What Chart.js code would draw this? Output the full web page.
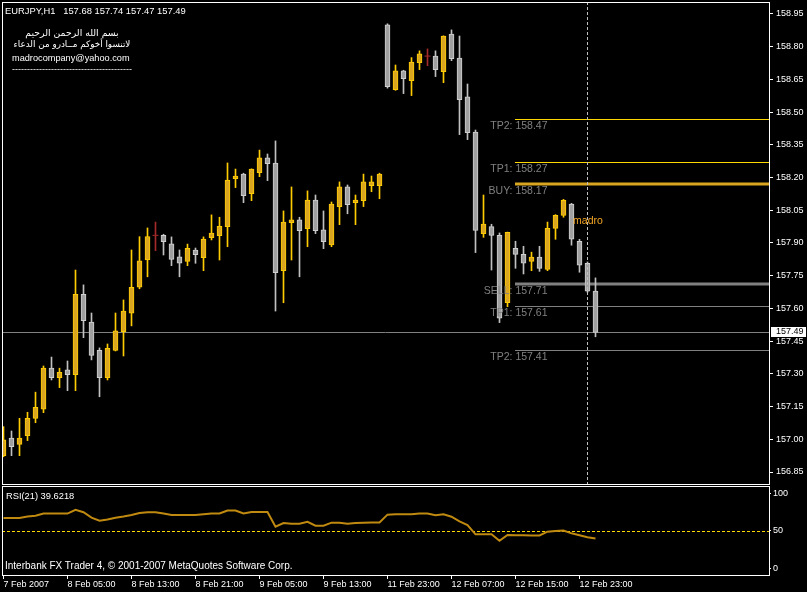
<!DOCTYPE html>
<html>
<head>
<meta charset="utf-8">
<title>EURJPY,H1</title>
<script src="https://cdn.jsdelivr.net/npm/chart.js@4.4.1/dist/chart.umd.min.js"></script>
<style>
  html, body { margin: 0; padding: 0; background: #000; }
  #wrap { position: relative; width: 807px; height: 592px; overflow: hidden; background: #000; }
  #priceWrap { position: absolute; left: 0; top: 0; width: 807px; height: 486px; }
  #rsiWrap { position: absolute; left: 0; top: 484px; width: 807px; height: 108px; }
  .note { position: absolute; color: #fff; font: 9px 'Liberation Sans', Arial, sans-serif; white-space: pre; line-height: 12px; }
  .ar { font-family: 'DejaVu Sans', sans-serif; direction: rtl; text-align: center; width: 140px; left: 2px; }
</style>
</head>
<body>
<div id="wrap">
  <div id="priceWrap"><canvas id="priceChart"></canvas></div>
  <div id="rsiWrap"><canvas id="rsiChart"></canvas></div>
  <div class="note" id="header" style="left:5px;top:5px;font-size:9.4px"></div>
  <div class="note ar" style="top:27px;font-size:9.3px">بسم الله الرحمن الرحيم</div>
  <div class="note ar" style="top:38px;font-size:8.8px">لاتنسوا أخوكم مــادرو من الدعاء</div>
  <div class="note" style="left:12px;top:52px;font-size:9.2px">madrocompany@yahoo.com</div>
  <div class="note" style="left:12px;top:63px">----------------------------------------</div>
  <div class="note" id="rsiTitle" style="left:6px;top:490px;font-size:9.3px"></div>
  <div class="note" style="left:5px;top:560px;font-size:10px">Interbank FX Trader 4, © 2001-2007 MetaQuotes Software Corp.</div>
</div>
<script>
  /* Data */
  var symbol = 'EURJPY,H1';
  var openP = [156.925, 157.005, 156.977, 157.017, 157.096, 157.138, 157.326, 157.282, 157.318, 157.296,
               157.665, 157.537, 157.408, 157.282, 157.408, 157.493, 157.578, 157.697, 157.822, 157.935,
               157.935, 157.896, 157.837, 157.815, 157.867, 157.833, 157.924, 157.934, 157.975, 158.195,
               158.216, 158.126, 158.222, 158.290, 158.267, 157.773, 157.993, 158.006, 157.966, 158.097,
               157.960, 157.891, 158.067, 158.157, 158.085, 158.094, 158.163, 158.163, 158.900, 158.603,
               158.689, 158.644, 158.727, 158.757, 158.757, 158.686, 158.858, 158.748, 158.570, 158.409,
               157.943, 157.975, 157.935, 157.626, 157.876, 157.848, 157.816, 157.835, 157.779, 157.967,
               158.027, 158.078, 157.908, 157.807, 157.680];
  var highP = [157.058, 157.038, 157.096, 157.124, 157.216, 157.336, 157.377, 157.326, 157.359, 157.776,
               157.708, 157.579, 157.419, 157.437, 157.579, 157.639, 157.868, 157.929, 157.969, 157.996,
               157.940, 157.928, 157.868, 157.895, 157.877, 157.928, 158.029, 158.018, 158.267, 158.239,
               158.220, 158.240, 158.326, 158.308, 158.368, 158.047, 158.157, 158.018, 158.139, 158.120,
               158.047, 158.088, 158.180, 158.166, 158.120, 158.216, 158.207, 158.220, 158.905, 158.716,
               158.692, 158.750, 158.781, 158.790, 158.781, 158.850, 158.877, 158.849, 158.629, 158.418,
               158.120, 157.986, 157.946, 157.950, 157.908, 157.885, 157.858, 157.885, 157.996, 158.030,
               158.100, 158.082, 157.917, 157.813, 157.740];
  var lowP = [156.920, 156.925, 156.925, 156.994, 157.076, 157.122, 157.272, 157.237, 157.223, 157.223,
              157.466, 157.364, 157.195, 157.272, 157.405, 157.382, 157.520, 157.690, 157.745, 157.865,
              157.845, 157.796, 157.745, 157.796, 157.807, 157.773, 157.914, 157.822, 157.883, 158.154,
              158.085, 158.094, 158.204, 158.186, 157.588, 157.626, 157.822, 157.745, 157.883, 157.943,
              157.874, 157.883, 157.984, 158.034, 157.984, 158.067, 158.135, 158.103, 158.610, 158.600,
              158.585, 158.576, 158.695, 158.713, 158.663, 158.635, 158.736, 158.397, 158.374, 157.856,
              157.926, 157.776, 157.535, 157.608, 157.784, 157.758, 157.773, 157.770, 157.773, 157.917,
              158.018, 157.890, 157.766, 157.674, 157.470];
  var closeP = [156.997, 156.966, 157.005, 157.096, 157.147, 157.326, 157.282, 157.307, 157.296, 157.665,
                157.544, 157.385, 157.282, 157.417, 157.497, 157.588, 157.697, 157.818, 157.929, 157.935,
                157.906, 157.825, 157.807, 157.876, 157.846, 157.918, 157.946, 157.977, 158.189, 158.207,
                158.117, 158.239, 158.290, 158.264, 157.764, 157.996, 158.006, 157.957, 158.097, 157.957,
                157.906, 158.079, 158.157, 158.076, 158.097, 158.180, 158.180, 158.216, 158.617, 158.689,
                158.653, 158.730, 158.767, 158.757, 158.695, 158.849, 158.745, 158.557, 158.406, 157.958,
                157.987, 157.935, 157.555, 157.949, 157.848, 157.807, 157.835, 157.784, 157.967, 158.027,
                158.096, 157.917, 157.798, 157.679, 157.490];
  var rsi = [67, 67, 67, 69, 70, 73, 73, 73, 73, 78,
             74.7, 67.5, 63.5, 65, 67.5, 69, 71, 73.7, 74.7, 74.7,
             73, 71, 71, 71, 71, 72, 73, 73, 77, 77,
             73, 75, 75, 75, 55.5, 60.4, 59.5, 59.5, 62, 56.8,
             56.8, 60.8, 60.8, 59.5, 60.4, 60.8, 61, 61, 71.5, 72,
             72, 72, 73, 73, 70.6, 72, 68.8, 62.6, 57.7, 45.3,
             45.3, 45.3, 36.8, 44.4, 44, 44, 43.7, 43.7, 48.8, 49.8,
             50.3, 46.6, 44, 41.3, 39.6218];
  var timeTicks = [0, 8, 16, 24, 32, 40, 48, 56, 64, 72];
  var timeLabels = ['7 Feb 2007', '8 Feb 05:00', '8 Feb 13:00', '8 Feb 21:00', '9 Feb 05:00',
                    '9 Feb 13:00', '11 Feb 23:00', '12 Feb 07:00', '12 Feb 15:00', '12 Feb 23:00'];
  var priceTicks = [158.95, 158.80, 158.65, 158.50, 158.35, 158.20, 158.05, 157.90,
                    157.75, 157.60, 157.45, 157.30, 157.15, 157.00, 156.85];
  var rsiTicks = [0, 50, 100];
  var levelNames = ['TP2', 'TP1', 'BUY', 'SELL', 'TP1', 'TP2'];
  var levelValues = [158.47, 158.27, 158.17, 157.71, 157.61, 157.41];
  var levelSide = ['buy', 'buy', 'buy', 'sell', 'sell', 'sell'];

  var levelFromBar = 64, levelLabelBar = 68, cursorBar = 73;
  var noteText = 'madro', noteBar = 71.2, notePrice = 158.0;

  var barIdx = openP.map(function (v, i) { return i; });
  var last = closeP.length - 1;
  var xMin = -0.1875, xMax = 95.6875;
  var axisFont = { family: "'Liberation Sans', Arial, sans-serif", size: 9 };

  document.getElementById('header').textContent = symbol + '   ' + [openP[last], highP[last], lowP[last], closeP[last]].map(function (v) { return v.toFixed(2); }).join(' ');
  document.getElementById('rsiTitle').textContent = 'RSI(21) ' + rsi[last].toFixed(4);

  function isBull(i) { return closeP[i] > openP[i]; }
  function isDoji(i) { return closeP[i] === openP[i]; }
  function noPad(s) { s.paddingTop = 0; s.paddingBottom = 0; s.paddingLeft = 0; s.paddingRight = 0; }

  /* Price panel overlay */
  var pricePlugin = {
    id: 'priceOverlay',
    beforeDatasetsDraw: function (chart) {
      var ctx = chart.ctx, a = chart.chartArea, xs = chart.scales.x, ys = chart.scales.y;
      ctx.save();
      var yc = Math.round(ys.getPixelForValue(closeP[last])) + 0.5;
      ctx.strokeStyle = '#808080';
      ctx.lineWidth = 1;
      ctx.beginPath(); ctx.moveTo(a.left, yc); ctx.lineTo(a.right, yc); ctx.stroke();

      var x0 = Math.floor(xs.getPixelForValue(levelFromBar));
      levelValues.forEach(function (v, i) {
        var entry = levelNames[i] === 'BUY' || levelNames[i] === 'SELL';
        var y = Math.round(ys.getPixelForValue(v));
        if (levelSide[i] === 'buy') ctx.strokeStyle = entry ? '#daa520' : '#ffd700';
        else ctx.strokeStyle = '#808080';
        ctx.lineWidth = entry ? 3 : 1;
        ctx.beginPath();
        ctx.moveTo(x0, entry ? y : y + 0.5);
        ctx.lineTo(a.right, entry ? y : y + 0.5);
        ctx.stroke();
      });
      ctx.restore();
    },
    afterDatasetsDraw: function (chart) {
      var ctx = chart.ctx, a = chart.chartArea, xs = chart.scales.x, ys = chart.scales.y;
      ctx.save();
      // cursor line
      var xc = Math.floor(xs.getPixelForValue(cursorBar)) + 0.5;
      ctx.strokeStyle = '#c0c0c0';
      ctx.lineWidth = 1;
      ctx.setLineDash([3, 2]);
      ctx.beginPath(); ctx.moveTo(xc, a.top); ctx.lineTo(xc, a.bottom); ctx.stroke();
      ctx.setLineDash([]);

      // level labels
      ctx.font = "10.5px 'Liberation Sans', Arial, sans-serif";
      ctx.fillStyle = '#808080';
      ctx.textAlign = 'right';
      ctx.textBaseline = 'middle';
      var xl = xs.getPixelForValue(levelLabelBar);
      levelValues.forEach(function (v, i) {
        ctx.fillText(levelNames[i] + ': ' + v.toFixed(2), xl, ys.getPixelForValue(v) + 7);
      });

      ctx.fillStyle = '#f5a623';
      ctx.textAlign = 'left';
      ctx.fillText(noteText, xs.getPixelForValue(noteBar), ys.getPixelForValue(notePrice));
      ctx.restore();
    },
    afterDraw: function (chart) {
      var ctx = chart.ctx, a = chart.chartArea, ys = chart.scales.y;
      ctx.save();
      ctx.strokeStyle = '#ffffff';
      ctx.lineWidth = 1;
      ctx.strokeRect(a.left + 0.5, a.top + 0.5, a.right - a.left, a.bottom - a.top);
      // current price tag
      var yc = Math.round(ys.getPixelForValue(closeP[last]));
      ctx.fillStyle = '#ffffff';
      ctx.fillRect(a.right + 2, yc - 5, 35, 10);
      ctx.fillStyle = '#000000';
      ctx.font = "9px 'Liberation Sans', Arial, sans-serif";
      ctx.textAlign = 'left';
      ctx.textBaseline = 'middle';
      ctx.fillText(closeP[last].toFixed(2), a.right + 7, yc);
      ctx.restore();
    }
  };

  new Chart(document.getElementById('priceChart'), {
    type: 'bar',
    data: {
      datasets: [{
        label: 'wick',
        data: barIdx.map(function (i) { return { x: i, y: [lowP[i], highP[i]] }; }),
        backgroundColor: barIdx.map(function (i) { return isDoji(i) ? '#a52a2a' : isBull(i) ? '#ffcc00' : '#c0c0c0'; }),
        barThickness: 1,
        grouped: false,
        order: 3
      }, {
        label: 'body',
        data: barIdx.map(function (i) { return { x: i, y: [openP[i], closeP[i]] }; }),
        backgroundColor: barIdx.map(function (i) { return isBull(i) ? '#daa520' : '#a0a0a0'; }),
        borderColor: barIdx.map(function (i) { return isBull(i) ? '#ffcc00' : '#d0d0d0'; }),
        borderWidth: 1,
        borderSkipped: false,
        barThickness: 5,
        grouped: false,
        order: 2
      }, {
        type: 'scatter',
        label: 'doji',
        data: barIdx.filter(isDoji).map(function (i) { return { x: i, y: openP[i] }; }),
        pointStyle: 'line',
        pointRadius: 3,
        borderColor: '#a52a2a',
        borderWidth: 1,
        order: 1
      }]
    },
    options: {
      responsive: true,
      maintainAspectRatio: false,
      animation: false,
      layout: { autoPadding: false, padding: { left: 2, top: 2, right: 0, bottom: 2 } },
      plugins: { legend: { display: false }, tooltip: { enabled: false } },
      scales: {
        x: { type: 'linear', display: false, min: xMin, max: xMax, offset: false },
        y: {
          position: 'right',
          min: 156.795,
          max: 159.005,
          afterBuildTicks: function (s) { s.ticks = priceTicks.map(function (v) { return { value: v }; }); },
          afterFit: function (s) { s.width = 38; noPad(s); },
          ticks: {
            color: '#ffffff', font: axisFont, padding: 3, autoSkip: false,
            callback: function (v) { return Number(v).toFixed(2); }
          },
          grid: { drawOnChartArea: false, drawTicks: true, tickLength: 4, color: '#ffffff' },
          border: { display: false }
        }
      }
    },
    plugins: [pricePlugin]
  });

  /* RSI panel */
  var rsiPlugin = {
    id: 'rsiOverlay',
    beforeDatasetsDraw: function (chart) {
      var ctx = chart.ctx, a = chart.chartArea, ys = chart.scales.y;
      var y = Math.round(ys.getPixelForValue(50)) + 0.5;
      ctx.save();
      ctx.strokeStyle = '#ffd700';
      ctx.lineWidth = 1;
      ctx.setLineDash([3, 2]);
      ctx.beginPath(); ctx.moveTo(a.left, y); ctx.lineTo(a.right + 3, y); ctx.stroke();
      ctx.restore();
    },
    afterDraw: function (chart) {
      var ctx = chart.ctx, a = chart.chartArea;
      ctx.save();
      ctx.strokeStyle = '#ffffff';
      ctx.lineWidth = 1;
      ctx.strokeRect(a.left + 0.5, a.top + 0.5, a.right - a.left, a.bottom - a.top);
      ctx.restore();
    }
  };

  new Chart(document.getElementById('rsiChart'), {
    type: 'line',
    data: {
      datasets: [{
        label: 'RSI(21)',
        data: barIdx.map(function (i) { return { x: i, y: rsi[i] }; }),
        borderColor: '#c08a10',
        borderWidth: 2,
        pointRadius: 0,
        tension: 0
      }]
    },
    options: {
      responsive: true,
      maintainAspectRatio: false,
      animation: false,
      layout: { autoPadding: false, padding: { left: 2, top: 2, right: 0, bottom: 0 } },
      plugins: { legend: { display: false }, tooltip: { enabled: false } },
      scales: {
        x: {
          type: 'linear', min: xMin, max: xMax, offset: false,
          afterBuildTicks: function (s) { s.ticks = timeTicks.map(function (v) { return { value: v }; }); },
          afterFit: function (s) { s.height = 17; noPad(s); },
          ticks: {
            color: '#ffffff', font: axisFont, padding: 0, align: 'start', maxRotation: 0, autoSkip: false,
            callback: function (v, i) { return timeLabels[i]; }
          },
          grid: { drawOnChartArea: false, drawTicks: true, tickLength: 4, color: '#ffffff' },
          border: { display: false }
        },
        y: {
          position: 'right', min: -8.93, max: 109.7,
          afterBuildTicks: function (s) { s.ticks = rsiTicks.map(function (v) { return { value: v }; }); },
          afterFit: function (s) { s.width = 38; noPad(s); },
          ticks: { color: '#ffffff', font: axisFont, padding: 2, autoSkip: false },
          grid: { drawOnChartArea: false, drawTicks: true, tickLength: 2, color: '#ffffff' },
          border: { display: false }
        }
      }
    },
    plugins: [rsiPlugin]
  });
</script>
</body>
</html>
